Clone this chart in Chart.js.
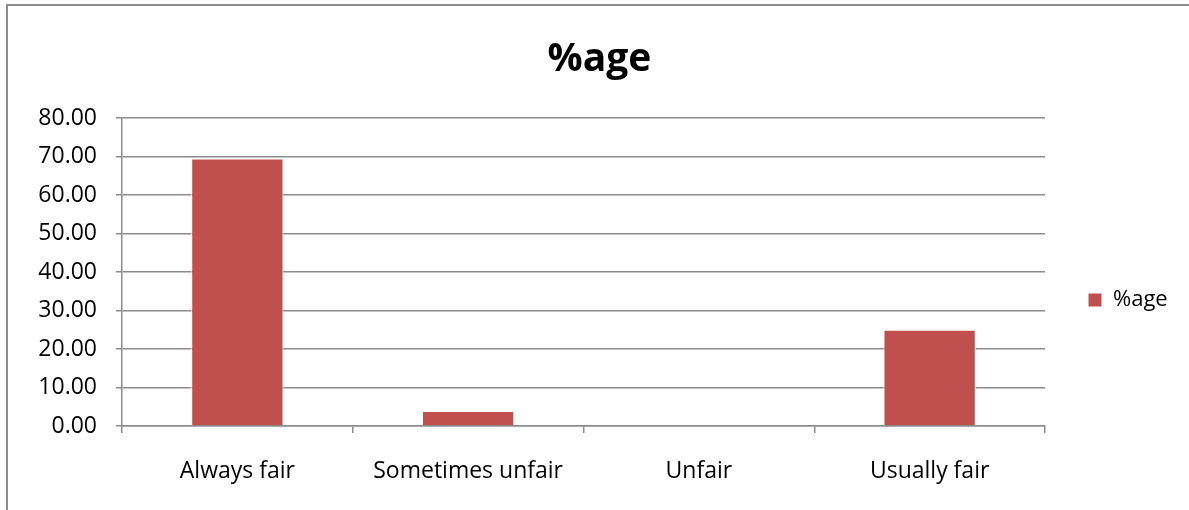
<!DOCTYPE html>
<html>
<head>
<meta charset="utf-8">
<script src="https://cdn.jsdelivr.net/npm/chart.js@4.4.1/dist/chart.umd.min.js"></script>
<style>
  html, body { margin: 0; padding: 0; background: #fff; overflow: hidden; }
  #wrap { position: absolute; left: 0; top: 0; width: 1189px; height: 510px; }
  #frame { position: absolute; left: 6px; top: 4px; width: 1200px; height: 520px; border: 2px solid #8c8c8c; box-sizing: border-box; pointer-events: none; }
</style>
</head>
<body>
<div id="wrap">
  <canvas id="c" width="1189" height="510"></canvas>
  <div id="frame"></div>
</div>
<script>
const categories = ["Always fair", "Sometimes unfair", "Unfair", "Usually fair"];
const seriesName = "%age";
const values = [69.5, 3.9, 0, 25.0];
const yTicksMax = 80;
const yTickStep = 10;

const FONT = "'Open Sans', sans-serif";
const GRID = "#8c8c8c";

const legendWidthPlugin = {
  id: "legendWidth",
  afterInit(chart) {
    const lg = chart.legend;
    if (!lg) return;
    const orig = lg.fit.bind(lg);
    lg.fit = function() { orig(); this.width = 144; };
  }
};

new Chart(document.getElementById("c"), {
  type: "bar",
  data: {
    labels: categories,
    datasets: [{
      label: seriesName,
      data: values,
      backgroundColor: "#C0504D",
      borderColor: "#ffffff",
      borderWidth: 1,
      barPercentage: 0.4,
      categoryPercentage: 1.0
    }]
  },
  plugins: [legendWidthPlugin],
  options: {
    responsive: false,
    animation: false,
    layout: { padding: { left: 10, right: 0, top: 0, bottom: 0 } },
    plugins: {
      title: {
        display: true,
        text: seriesName,
        color: "#000",
        font: { family: FONT, size: 39, weight: "bold" },
        padding: { top: 36.6, bottom: 34.6 }
      },
      legend: {
        position: "right",
        title: { display: true, text: "", font: { size: 10 }, padding: { top: 0, bottom: 78 } },
        labels: {
          color: "#000",
          font: { family: FONT, size: 22 },
          boxWidth: 14,
          boxHeight: 14,
          padding: 43
        }
      },
      tooltip: { enabled: false }
    },
    scales: {
      x: {
        grid: { display: true, drawOnChartArea: false, color: GRID, lineWidth: 1.5, tickLength: 7, offset: true },
        border: { display: true, color: GRID, width: 1.5 },
        ticks: { color: "#000", font: { family: FONT, size: 23 }, padding: 25, maxRotation: 0 },
        afterFit: function(scale) { scale.height = 84; }
      },
      y: {
        min: 0,
        max: yTicksMax,
        grid: { color: GRID, lineWidth: 1.5, tickLength: 6 },
        border: { display: true, color: GRID, width: 1.5 },
        ticks: {
          stepSize: yTickStep,
          color: "#000",
          font: { family: FONT, size: 23 },
          padding: 19,
          callback: function(v) { return Number(v).toFixed(2); }
        },
        afterFit: function(scale) { scale.width = 112; }
      }
    }
  }
});
</script>
</body>
</html>
